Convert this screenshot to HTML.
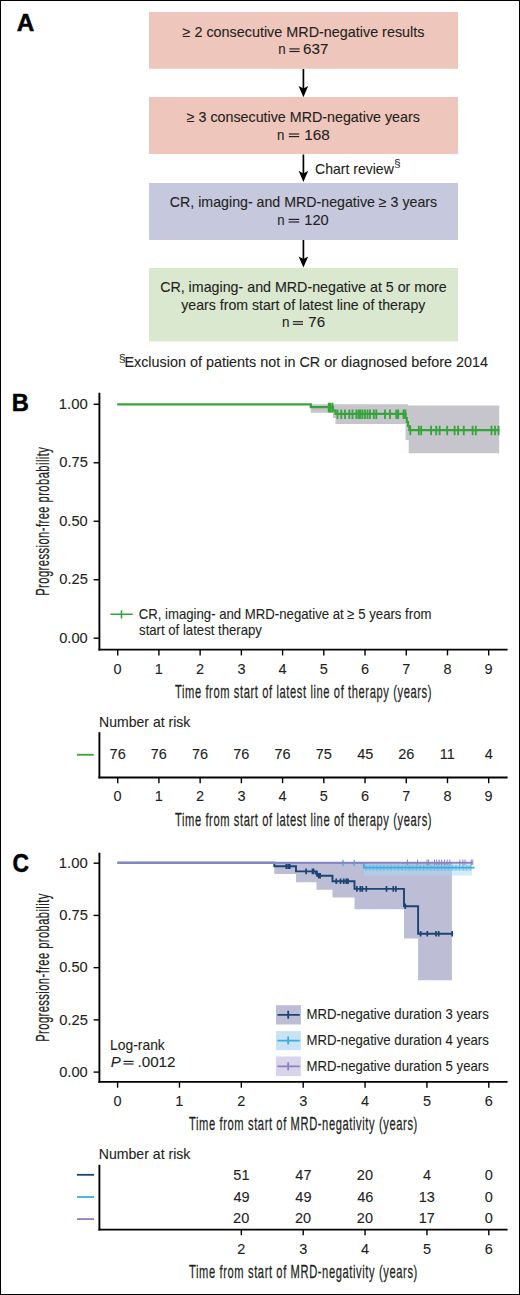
<!DOCTYPE html>
<html><head><meta charset="utf-8"><style>
html,body{margin:0;padding:0;background:#fff;}
svg{display:block;font-family:"Liberation Sans",sans-serif;}
</style></head><body>
<svg width="520" height="1295" viewBox="0 0 520 1295" fill="#231f20">
<rect x="0" y="0" width="520" height="1295" fill="#fff"/>
<rect x="149" y="12" width="309" height="56.8" fill="#efc6bc"/>
<rect x="149" y="97" width="309" height="57" fill="#efc6bc"/>
<rect x="149" y="183" width="309" height="57" fill="#c6c8de"/>
<rect x="149" y="268" width="309" height="73.5" fill="#d9e8cf"/>
<rect x="289.4" y="48.32" width="10.20" height="1.16" fill="#231f20"/>
<rect x="289.4" y="50.92" width="10.20" height="1.16" fill="#231f20"/>
<rect x="288.8" y="133.42" width="10.40" height="1.16" fill="#231f20"/>
<rect x="288.8" y="136.02" width="10.40" height="1.16" fill="#231f20"/>
<rect x="288.6" y="218.82" width="10.60" height="1.16" fill="#231f20"/>
<rect x="288.6" y="221.42" width="10.60" height="1.16" fill="#231f20"/>
<rect x="292.9" y="321.12" width="10.10" height="1.16" fill="#231f20"/>
<rect x="292.9" y="323.72" width="10.10" height="1.16" fill="#231f20"/>
<line x1="303.4" y1="69" x2="303.4" y2="89.10000000000001" stroke="#000" stroke-width="1.7"/>
<path d="M303.4,97.2 L298.6,86.0 L303.4,88.60000000000001 L308.2,86.0 Z" fill="#000"/>
<line x1="303.4" y1="154.5" x2="303.4" y2="173.9" stroke="#000" stroke-width="1.7"/>
<path d="M303.4,182 L298.6,170.8 L303.4,173.4 L308.2,170.8 Z" fill="#000"/>
<line x1="303.4" y1="240" x2="303.4" y2="259.5" stroke="#000" stroke-width="1.7"/>
<path d="M303.4,267.6 L298.6,256.40000000000003 L303.4,259.0 L308.2,256.40000000000003 Z" fill="#000"/>
<line x1="99.4" y1="392.8" x2="99.4" y2="650.5500000000001" stroke="#000" stroke-width="1.9"/>
<line x1="98.45" y1="649.6" x2="507.6" y2="649.6" stroke="#000" stroke-width="1.9"/>
<line x1="93.6" y1="404.30" x2="99.4" y2="404.30" stroke="#000" stroke-width="1.4"/>
<line x1="93.6" y1="462.78" x2="99.4" y2="462.78" stroke="#000" stroke-width="1.4"/>
<line x1="93.6" y1="521.25" x2="99.4" y2="521.25" stroke="#000" stroke-width="1.4"/>
<line x1="93.6" y1="579.73" x2="99.4" y2="579.73" stroke="#000" stroke-width="1.4"/>
<line x1="93.6" y1="638.20" x2="99.4" y2="638.20" stroke="#000" stroke-width="1.4"/>
<line x1="117.70" y1="649.6" x2="117.70" y2="655.4" stroke="#000" stroke-width="1.4"/>
<line x1="158.92" y1="649.6" x2="158.92" y2="655.4" stroke="#000" stroke-width="1.4"/>
<line x1="200.14" y1="649.6" x2="200.14" y2="655.4" stroke="#000" stroke-width="1.4"/>
<line x1="241.37" y1="649.6" x2="241.37" y2="655.4" stroke="#000" stroke-width="1.4"/>
<line x1="282.59" y1="649.6" x2="282.59" y2="655.4" stroke="#000" stroke-width="1.4"/>
<line x1="323.81" y1="649.6" x2="323.81" y2="655.4" stroke="#000" stroke-width="1.4"/>
<line x1="365.03" y1="649.6" x2="365.03" y2="655.4" stroke="#000" stroke-width="1.4"/>
<line x1="406.26" y1="649.6" x2="406.26" y2="655.4" stroke="#000" stroke-width="1.4"/>
<line x1="447.48" y1="649.6" x2="447.48" y2="655.4" stroke="#000" stroke-width="1.4"/>
<line x1="488.70" y1="649.6" x2="488.70" y2="655.4" stroke="#000" stroke-width="1.4"/>
<polygon points="310.8,404.3 408.2,404.3 408.2,405.5 499.2,405.5 499.2,453.2 408.7,453.2 408.7,440 405.5,440 405.5,423.9 335.5,423.9 335.5,418 333,418 333,412.8 310.8,412.8" fill="#c7c5cc"/>
<path d="M117.2,404.3 H310.8 V407.2 H333 V410.5 H335.5 V413.8 H405.5 V418 H406.8 V422 H408 V426 H409.3 V430.1 H499.4" fill="none" stroke="#36a33b" stroke-width="2.2"/>
<path d="M328.7,402.8v9.6 M330.5,402.8v9.6 M332.6,402.8v9.6 M337.5,409.40000000000003v9.6 M341.3,409.40000000000003v9.6 M345,409.40000000000003v9.6 M349.3,409.40000000000003v9.6 M352.5,409.40000000000003v9.6 M356.3,409.40000000000003v9.6 M358.5,409.40000000000003v9.6 M360.3,409.40000000000003v9.6 M362.5,409.40000000000003v9.6 M365,409.40000000000003v9.6 M367.5,409.40000000000003v9.6 M370,409.40000000000003v9.6 M373.8,409.40000000000003v9.6 M376.3,409.40000000000003v9.6 M385,409.40000000000003v9.6 M390,409.40000000000003v9.6 M396.3,409.40000000000003v9.6 M398.2,409.40000000000003v9.6 M403.5,409.40000000000003v9.6 M405.4,409.40000000000003v9.6 M410.3,425.70000000000005v9.6 M418.8,425.70000000000005v9.6 M421.2,425.70000000000005v9.6 M431.1,425.70000000000005v9.6 M436.2,425.70000000000005v9.6 M439.6,425.70000000000005v9.6 M447.2,425.70000000000005v9.6 M454.6,425.70000000000005v9.6 M458.1,425.70000000000005v9.6 M463.8,425.70000000000005v9.6 M472.6,425.70000000000005v9.6 M475.8,425.70000000000005v9.6 M491.5,425.70000000000005v9.6 M495,425.70000000000005v9.6 M498.5,425.70000000000005v9.6" stroke="#36a33b" stroke-width="1.8" fill="none"/>
<path d="M110.4,614.2 H132.7 M121.5,610.2 V618.4" stroke="#36a33b" stroke-width="1.6" fill="none"/>
<line x1="99.4" y1="732.2" x2="99.4" y2="778.45" stroke="#000" stroke-width="1.9"/>
<line x1="98.45" y1="777.5" x2="507.6" y2="777.5" stroke="#000" stroke-width="1.9"/>
<line x1="117.70" y1="777.5" x2="117.70" y2="783.2" stroke="#000" stroke-width="1.4"/>
<line x1="158.92" y1="777.5" x2="158.92" y2="783.2" stroke="#000" stroke-width="1.4"/>
<line x1="200.14" y1="777.5" x2="200.14" y2="783.2" stroke="#000" stroke-width="1.4"/>
<line x1="241.37" y1="777.5" x2="241.37" y2="783.2" stroke="#000" stroke-width="1.4"/>
<line x1="282.59" y1="777.5" x2="282.59" y2="783.2" stroke="#000" stroke-width="1.4"/>
<line x1="323.81" y1="777.5" x2="323.81" y2="783.2" stroke="#000" stroke-width="1.4"/>
<line x1="365.03" y1="777.5" x2="365.03" y2="783.2" stroke="#000" stroke-width="1.4"/>
<line x1="406.26" y1="777.5" x2="406.26" y2="783.2" stroke="#000" stroke-width="1.4"/>
<line x1="447.48" y1="777.5" x2="447.48" y2="783.2" stroke="#000" stroke-width="1.4"/>
<line x1="488.70" y1="777.5" x2="488.70" y2="783.2" stroke="#000" stroke-width="1.4"/>
<line x1="76.9" y1="754.75" x2="93.75" y2="754.75" stroke="#36a33b" stroke-width="1.8"/>
<line x1="99.4" y1="852.7" x2="99.4" y2="1082.8500000000001" stroke="#000" stroke-width="1.9"/>
<line x1="98.45" y1="1081.9" x2="507.6" y2="1081.9" stroke="#000" stroke-width="1.9"/>
<line x1="93.6" y1="863.20" x2="99.4" y2="863.20" stroke="#000" stroke-width="1.4"/>
<line x1="93.6" y1="915.42" x2="99.4" y2="915.42" stroke="#000" stroke-width="1.4"/>
<line x1="93.6" y1="967.65" x2="99.4" y2="967.65" stroke="#000" stroke-width="1.4"/>
<line x1="93.6" y1="1019.88" x2="99.4" y2="1019.88" stroke="#000" stroke-width="1.4"/>
<line x1="93.6" y1="1072.10" x2="99.4" y2="1072.10" stroke="#000" stroke-width="1.4"/>
<line x1="117.60" y1="1081.9" x2="117.60" y2="1087.7" stroke="#000" stroke-width="1.4"/>
<line x1="179.47" y1="1081.9" x2="179.47" y2="1087.7" stroke="#000" stroke-width="1.4"/>
<line x1="241.33" y1="1081.9" x2="241.33" y2="1087.7" stroke="#000" stroke-width="1.4"/>
<line x1="303.20" y1="1081.9" x2="303.20" y2="1087.7" stroke="#000" stroke-width="1.4"/>
<line x1="365.07" y1="1081.9" x2="365.07" y2="1087.7" stroke="#000" stroke-width="1.4"/>
<line x1="426.93" y1="1081.9" x2="426.93" y2="1087.7" stroke="#000" stroke-width="1.4"/>
<line x1="488.80" y1="1081.9" x2="488.80" y2="1087.7" stroke="#000" stroke-width="1.4"/>
<polygon points="274.3,862.9 451.9,862.9 451.9,980.2 418.1,980.2 418.1,938.5 404.0,938.5 404.0,909.2 354.5,909.2 354.5,897.4 332.5,897.4 332.5,889.8 316.5,889.8 316.5,882.3 296.0,882.3 296.0,874.0 274.3,874.0" fill="#bdbdd6"/>
<rect x="363.8" y="864.2" width="108.1" height="11.4" fill="#a9d9f2" fill-opacity="0.5"/>
<rect x="363.8" y="864.8" width="108.1" height="5.8" fill="#7cc5ec" fill-opacity="0.45"/>
<path d="M117.6,862.8 H274.3 V866.2 H296 V871.4 H316 V873.6 H317.5 V875.8 H332.5 V881.2 H354.5 V888.9 H404 V906.2 H418.1 V933.7 H453.1" fill="none" stroke="#1b4474" stroke-width="1.9"/>
<path d="M286.3,863.4000000000001v5.6 M288.3,863.4000000000001v5.6 M289.7,863.4000000000001v5.6 M306.1,868.6v5.6 M312.5,868.6v5.6 M313.6,868.6v5.6 M317,870.8000000000001v5.6 M318.75,873.0v5.6 M320.2,873.0v5.6 M336.25,878.4000000000001v5.6 M340.5,878.4000000000001v5.6 M343.75,878.4000000000001v5.6 M346.25,878.4000000000001v5.6 M348,878.4000000000001v5.6 M356.9,886.1v5.6 M360.3,886.1v5.6 M362.3,886.1v5.6 M366.3,886.1v5.6 M386.5,886.1v5.6 M393.3,886.1v5.6 M395.9,886.1v5.6 M405.3,903.4000000000001v5.6 M420.6,930.9000000000001v5.6 M427.3,930.9000000000001v5.6 M436,930.9000000000001v5.6 M438.7,930.9000000000001v5.6 M452.2,930.9000000000001v5.6" stroke="#1b4474" stroke-width="1.7" fill="none"/>
<path d="M117.6,862.8 H363.8 V867.6 H474.6" fill="none" stroke="#3aaee0" stroke-width="1.8"/>
<path d="M343.0,859.9v6 M354.2,859.9v6" stroke="#3aaee0" stroke-width="1.3" fill="none"/>
<path d="M366.0,864.6v6 M369.6,864.6v6 M373.2,864.6v6 M376.8,864.6v6 M380.4,864.6v6 M384.0,864.6v6 M387.6,864.6v6 M391.2,864.6v6 M394.8,864.6v6 M398.4,864.6v6 M402.0,864.6v6 M405.6,864.6v6 M409.2,864.6v6 M412.8,864.6v6 M416.4,864.6v6 M420.0,864.6v6 M423.6,864.6v6 M427.2,864.6v6 M430.8,864.6v6 M434.4,864.6v6 M438.0,864.6v6 M441.6,864.6v6 M445.2,864.6v6 M448.8,864.6v6 M452.4,864.6v6 M456.0,864.6v6 M459.6,864.6v6 M463.2,864.6v6 M466.8,864.6v6 M470.4,864.6v6" stroke="#3aaee0" stroke-width="0.9" stroke-opacity="0.55" fill="none"/>
<path d="M117.6,862.8 H472.7" fill="none" stroke="#8a83c0" stroke-width="2"/>
<path d="M407.5,859.5v5.6 M417.6,859.5v5.6 M427,859.5v5.6 M428.6,859.5v5.6 M434.5,859.5v5.6 M436.7,859.5v5.6 M439.2,859.5v5.6 M441.7,859.5v5.6 M444.5,859.5v5.6 M447.2,859.5v5.6 M449.8,859.5v5.6 M459.9,859.5v5.6 M462.9,859.5v5.6 M465,859.5v5.6 M471.3,859.5v5.6 M472.8,859.5v5.6" stroke="#8a83c0" stroke-width="1" fill="none"/>
<rect x="276" y="1005.2" width="24.9" height="19.3" fill="#bdbdd6"/>
<path d="M277.5,1014.8 H299.8 M288.2,1010.8 V1018.8" stroke="#1b4474" stroke-width="1.8" fill="none"/>
<rect x="276" y="1031.1" width="24.9" height="19.1" fill="#c8e4f4"/>
<path d="M277.5,1040.6 H299.8 M288.2,1036.6 V1044.6" stroke="#3aaee0" stroke-width="1.8" fill="none"/>
<rect x="276" y="1056.5" width="24.9" height="19.6" fill="#d9d4ec"/>
<path d="M277.5,1066.3 H299.8 M288.2,1062.3 V1070.3" stroke="#8a83c0" stroke-width="1.8" fill="none"/>
<rect x="123.5" y="1060.82" width="10.10" height="1.16" fill="#231f20"/>
<rect x="123.5" y="1063.42" width="10.10" height="1.16" fill="#231f20"/>
<line x1="99.4" y1="1164.8" x2="99.4" y2="1230.55" stroke="#000" stroke-width="1.9"/>
<line x1="98.45" y1="1229.6" x2="507.6" y2="1229.6" stroke="#000" stroke-width="1.9"/>
<line x1="241.33" y1="1229.6" x2="241.33" y2="1235.2" stroke="#000" stroke-width="1.4"/>
<line x1="303.20" y1="1229.6" x2="303.20" y2="1235.2" stroke="#000" stroke-width="1.4"/>
<line x1="365.07" y1="1229.6" x2="365.07" y2="1235.2" stroke="#000" stroke-width="1.4"/>
<line x1="426.93" y1="1229.6" x2="426.93" y2="1235.2" stroke="#000" stroke-width="1.4"/>
<line x1="488.80" y1="1229.6" x2="488.80" y2="1235.2" stroke="#000" stroke-width="1.4"/>
<line x1="76.9" y1="1174.8" x2="94" y2="1174.8" stroke="#1b4474" stroke-width="1.8"/>
<line x1="76.9" y1="1197.0" x2="94" y2="1197.0" stroke="#3aaee0" stroke-width="1.8"/>
<line x1="76.9" y1="1219.1" x2="94" y2="1219.1" stroke="#8a83c0" stroke-width="1.8"/>
<text x="16.82" y="30.7" font-size="24.5" stroke="#000" stroke-width="0.5" font-weight="bold" fill="#000" textLength="17.54" lengthAdjust="spacingAndGlyphs">A</text>
<text x="11.82" y="411.3" font-size="24.5" stroke="#000" stroke-width="0.5" font-weight="bold" fill="#000" textLength="17.10" lengthAdjust="spacingAndGlyphs">B</text>
<text x="12.39" y="871.8" font-size="25" stroke="#000" stroke-width="0.5" font-weight="bold" fill="#000" textLength="16.45" lengthAdjust="spacingAndGlyphs">C</text>
<text x="182.55" y="36.6" font-size="14.5" stroke="#231f20" stroke-width="0.1" textLength="241.90" lengthAdjust="spacingAndGlyphs">≥ 2 consecutive MRD-negative results</text>
<text x="278.17" y="54.4" font-size="14.5" stroke="#231f20" stroke-width="0.1" textLength="7.37" lengthAdjust="spacingAndGlyphs">n</text>
<text x="303.09" y="54.4" font-size="14.5" stroke="#231f20" stroke-width="0.1" textLength="25.33" lengthAdjust="spacingAndGlyphs">637</text>
<text x="186.75" y="121.7" font-size="14.5" stroke="#231f20" stroke-width="0.1" textLength="233.09" lengthAdjust="spacingAndGlyphs">≥ 3 consecutive MRD-negative years</text>
<text x="277.07" y="139.5" font-size="14.5" stroke="#231f20" stroke-width="0.1" textLength="7.37" lengthAdjust="spacingAndGlyphs">n</text>
<text x="304.24" y="139.5" font-size="14.5" stroke="#231f20" stroke-width="0.1" textLength="25.58" lengthAdjust="spacingAndGlyphs">168</text>
<text x="169.83" y="207.1" font-size="14.5" stroke="#231f20" stroke-width="0.1" textLength="267.31" lengthAdjust="spacingAndGlyphs">CR, imaging- and MRD-negative ≥ 3 years</text>
<text x="277.37" y="224.9" font-size="14.5" stroke="#231f20" stroke-width="0.1" textLength="7.37" lengthAdjust="spacingAndGlyphs">n</text>
<text x="304.29" y="224.9" font-size="14.5" stroke="#231f20" stroke-width="0.1" textLength="24.38" lengthAdjust="spacingAndGlyphs">120</text>
<text x="160.13" y="291.8" font-size="14.5" stroke="#231f20" stroke-width="0.1" textLength="286.65" lengthAdjust="spacingAndGlyphs">CR, imaging- and MRD-negative at 5 or more</text>
<text x="181.30" y="309.8" font-size="14.5" stroke="#231f20" stroke-width="0.1" textLength="244.10" lengthAdjust="spacingAndGlyphs">years from start of latest line of therapy</text>
<text x="281.96" y="327.2" font-size="14.5" stroke="#231f20" stroke-width="0.1" textLength="7.50" lengthAdjust="spacingAndGlyphs">n</text>
<text x="308.29" y="327.2" font-size="14.5" stroke="#231f20" stroke-width="0.1" textLength="16.82" lengthAdjust="spacingAndGlyphs">76</text>
<text x="315.04" y="173.5" font-size="14.5" stroke="#231f20" stroke-width="0.1" textLength="78.79" lengthAdjust="spacingAndGlyphs">Chart review</text>
<text x="394.04" y="166.8" font-size="10" textLength="6.63" lengthAdjust="spacingAndGlyphs">§</text>
<text x="118.71" y="362.0" font-size="10" textLength="7.00" lengthAdjust="spacingAndGlyphs">§</text>
<text x="124.38" y="366.6" font-size="14.5" stroke="#231f20" stroke-width="0.1" textLength="363.68" lengthAdjust="spacingAndGlyphs">Exclusion of patients not in CR or diagnosed before 2014</text>
<text x="58.77" y="409.0" font-size="14.5" stroke="#231f20" stroke-width="0.1" textLength="28.90" lengthAdjust="spacingAndGlyphs">1.00</text>
<text x="59.24" y="467.475" font-size="14.5" stroke="#231f20" stroke-width="0.1" textLength="28.66" lengthAdjust="spacingAndGlyphs">0.75</text>
<text x="59.24" y="525.95" font-size="14.5" stroke="#231f20" stroke-width="0.1" textLength="28.42" lengthAdjust="spacingAndGlyphs">0.50</text>
<text x="59.24" y="584.4250000000001" font-size="14.5" stroke="#231f20" stroke-width="0.1" textLength="28.66" lengthAdjust="spacingAndGlyphs">0.25</text>
<text x="59.24" y="642.9000000000001" font-size="14.5" stroke="#231f20" stroke-width="0.1" textLength="28.42" lengthAdjust="spacingAndGlyphs">0.00</text>
<text x="113.62" y="673.5" font-size="14.5" stroke="#231f20" stroke-width="0.1">0</text>
<text x="154.73" y="673.5" font-size="14.5" stroke="#231f20" stroke-width="0.1">1</text>
<text x="196.07" y="673.5" font-size="14.5" stroke="#231f20" stroke-width="0.1">2</text>
<text x="237.40" y="673.5" font-size="14.5" stroke="#231f20" stroke-width="0.1">3</text>
<text x="278.62" y="673.5" font-size="14.5" stroke="#231f20" stroke-width="0.1">4</text>
<text x="319.85" y="673.5" font-size="14.5" stroke="#231f20" stroke-width="0.1">5</text>
<text x="360.96" y="673.5" font-size="14.5" stroke="#231f20" stroke-width="0.1">6</text>
<text x="402.18" y="673.5" font-size="14.5" stroke="#231f20" stroke-width="0.1">7</text>
<text x="443.51" y="673.5" font-size="14.5" stroke="#231f20" stroke-width="0.1">8</text>
<text x="484.62" y="673.5" font-size="14.5" stroke="#231f20" stroke-width="0.1">9</text>
<text transform="translate(174.93,698.3) scale(0.62,1)" x="0" y="0" font-size="18" stroke="#231f20" stroke-width="0.25" textLength="413.79" lengthAdjust="spacing">Time from start of latest line of therapy (years)</text>
<text transform="rotate(-90) translate(-595.77,48.7) scale(0.62,1)" x="0" y="0" font-size="18" stroke="#231f20" stroke-width="0.25" textLength="239.79" lengthAdjust="spacing">Progression-free probability</text>
<text x="138.68" y="618.5" font-size="14.5" stroke="#231f20" stroke-width="0.1" textLength="292.80" lengthAdjust="spacingAndGlyphs">CR, imaging- and MRD-negative at ≥ 5 years from</text>
<text x="139.09" y="635.0" font-size="14.5" stroke="#231f20" stroke-width="0.1" textLength="122.81" lengthAdjust="spacingAndGlyphs">start of latest therapy</text>
<text x="99.00" y="726.6" font-size="14.5" stroke="#231f20" stroke-width="0.1" textLength="91.38" lengthAdjust="spacingAndGlyphs">Number at risk</text>
<text x="113.62" y="801.2" font-size="14.5" stroke="#231f20" stroke-width="0.1">0</text>
<text x="154.73" y="801.2" font-size="14.5" stroke="#231f20" stroke-width="0.1">1</text>
<text x="196.07" y="801.2" font-size="14.5" stroke="#231f20" stroke-width="0.1">2</text>
<text x="237.40" y="801.2" font-size="14.5" stroke="#231f20" stroke-width="0.1">3</text>
<text x="278.62" y="801.2" font-size="14.5" stroke="#231f20" stroke-width="0.1">4</text>
<text x="319.85" y="801.2" font-size="14.5" stroke="#231f20" stroke-width="0.1">5</text>
<text x="360.96" y="801.2" font-size="14.5" stroke="#231f20" stroke-width="0.1">6</text>
<text x="402.18" y="801.2" font-size="14.5" stroke="#231f20" stroke-width="0.1">7</text>
<text x="443.51" y="801.2" font-size="14.5" stroke="#231f20" stroke-width="0.1">8</text>
<text x="484.62" y="801.2" font-size="14.5" stroke="#231f20" stroke-width="0.1">9</text>
<text x="109.59" y="759.4" font-size="14.5" stroke="#231f20" stroke-width="0.1">76</text>
<text x="150.81" y="759.4" font-size="14.5" stroke="#231f20" stroke-width="0.1">76</text>
<text x="192.03" y="759.4" font-size="14.5" stroke="#231f20" stroke-width="0.1">76</text>
<text x="233.26" y="759.4" font-size="14.5" stroke="#231f20" stroke-width="0.1">76</text>
<text x="274.48" y="759.4" font-size="14.5" stroke="#231f20" stroke-width="0.1">76</text>
<text x="315.70" y="759.4" font-size="14.5" stroke="#231f20" stroke-width="0.1">75</text>
<text x="357.15" y="759.4" font-size="14.5" stroke="#231f20" stroke-width="0.1">45</text>
<text x="398.15" y="759.4" font-size="14.5" stroke="#231f20" stroke-width="0.1">26</text>
<text x="439.79" y="759.4" font-size="14.5" stroke="#231f20" stroke-width="0.1">11</text>
<text x="484.74" y="759.4" font-size="14.5" stroke="#231f20" stroke-width="0.1">4</text>
<text transform="translate(174.93,825.8) scale(0.62,1)" x="0" y="0" font-size="18" stroke="#231f20" stroke-width="0.25" textLength="413.95" lengthAdjust="spacing">Time from start of latest line of therapy (years)</text>
<text x="58.77" y="867.9000000000001" font-size="14.5" stroke="#231f20" stroke-width="0.1" textLength="28.90" lengthAdjust="spacingAndGlyphs">1.00</text>
<text x="59.24" y="920.125" font-size="14.5" stroke="#231f20" stroke-width="0.1" textLength="28.66" lengthAdjust="spacingAndGlyphs">0.75</text>
<text x="59.24" y="972.35" font-size="14.5" stroke="#231f20" stroke-width="0.1" textLength="28.42" lengthAdjust="spacingAndGlyphs">0.50</text>
<text x="59.24" y="1024.575" font-size="14.5" stroke="#231f20" stroke-width="0.1" textLength="28.66" lengthAdjust="spacingAndGlyphs">0.25</text>
<text x="59.24" y="1076.8" font-size="14.5" stroke="#231f20" stroke-width="0.1" textLength="28.42" lengthAdjust="spacingAndGlyphs">0.00</text>
<text x="113.52" y="1105.8" font-size="14.5" stroke="#231f20" stroke-width="0.1">0</text>
<text x="175.28" y="1105.8" font-size="14.5" stroke="#231f20" stroke-width="0.1">1</text>
<text x="237.26" y="1105.8" font-size="14.5" stroke="#231f20" stroke-width="0.1">2</text>
<text x="299.24" y="1105.8" font-size="14.5" stroke="#231f20" stroke-width="0.1">3</text>
<text x="361.10" y="1105.8" font-size="14.5" stroke="#231f20" stroke-width="0.1">4</text>
<text x="422.97" y="1105.8" font-size="14.5" stroke="#231f20" stroke-width="0.1">5</text>
<text x="484.72" y="1105.8" font-size="14.5" stroke="#231f20" stroke-width="0.1">6</text>
<text transform="translate(189.03,1130.4) scale(0.62,1)" x="0" y="0" font-size="18" stroke="#231f20" stroke-width="0.25" textLength="368.15" lengthAdjust="spacing">Time from start of MRD-negativity (years)</text>
<text transform="rotate(-90) translate(-1041.77,48.6) scale(0.62,1)" x="0" y="0" font-size="18" stroke="#231f20" stroke-width="0.25" textLength="238.83" lengthAdjust="spacing">Progression-free probability</text>
<text x="306.47" y="1019.4" font-size="14.5" stroke="#231f20" stroke-width="0.1" textLength="182.34" lengthAdjust="spacingAndGlyphs">MRD-negative duration 3 years</text>
<text x="306.47" y="1045.0" font-size="14.5" stroke="#231f20" stroke-width="0.1" textLength="182.34" lengthAdjust="spacingAndGlyphs">MRD-negative duration 4 years</text>
<text x="306.47" y="1070.9" font-size="14.5" stroke="#231f20" stroke-width="0.1" textLength="182.34" lengthAdjust="spacingAndGlyphs">MRD-negative duration 5 years</text>
<text x="110.12" y="1049.5" font-size="14.5" stroke="#231f20" stroke-width="0.1" textLength="54.67" lengthAdjust="spacingAndGlyphs">Log-rank</text>
<text x="110.77" y="1066.9" font-size="14.5" stroke="#231f20" stroke-width="0.1" font-style="italic" textLength="9.96" lengthAdjust="spacingAndGlyphs">P</text>
<text x="137.51" y="1066.9" font-size="14.5" stroke="#231f20" stroke-width="0.1" textLength="38.00" lengthAdjust="spacingAndGlyphs">.0012</text>
<text x="98.80" y="1159.2" font-size="14.5" stroke="#231f20" stroke-width="0.1" textLength="91.58" lengthAdjust="spacingAndGlyphs">Number at risk</text>
<text x="237.26" y="1253.8" font-size="14.5" stroke="#231f20" stroke-width="0.1">2</text>
<text x="299.24" y="1253.8" font-size="14.5" stroke="#231f20" stroke-width="0.1">3</text>
<text x="361.10" y="1253.8" font-size="14.5" stroke="#231f20" stroke-width="0.1">4</text>
<text x="422.97" y="1253.8" font-size="14.5" stroke="#231f20" stroke-width="0.1">5</text>
<text x="484.72" y="1253.8" font-size="14.5" stroke="#231f20" stroke-width="0.1">6</text>
<text x="233.34" y="1179.7" font-size="14.5" stroke="#231f20" stroke-width="0.1">51</text>
<text x="295.32" y="1179.7" font-size="14.5" stroke="#231f20" stroke-width="0.1">47</text>
<text x="356.84" y="1179.7" font-size="14.5" stroke="#231f20" stroke-width="0.1">20</text>
<text x="422.97" y="1179.7" font-size="14.5" stroke="#231f20" stroke-width="0.1">4</text>
<text x="484.72" y="1179.7" font-size="14.5" stroke="#231f20" stroke-width="0.1">0</text>
<text x="233.45" y="1201.7" font-size="14.5" stroke="#231f20" stroke-width="0.1">49</text>
<text x="295.32" y="1201.7" font-size="14.5" stroke="#231f20" stroke-width="0.1">49</text>
<text x="357.18" y="1201.7" font-size="14.5" stroke="#231f20" stroke-width="0.1">46</text>
<text x="418.71" y="1201.7" font-size="14.5" stroke="#231f20" stroke-width="0.1">13</text>
<text x="484.72" y="1201.7" font-size="14.5" stroke="#231f20" stroke-width="0.1">0</text>
<text x="233.11" y="1223.4" font-size="14.5" stroke="#231f20" stroke-width="0.1">20</text>
<text x="294.98" y="1223.4" font-size="14.5" stroke="#231f20" stroke-width="0.1">20</text>
<text x="356.84" y="1223.4" font-size="14.5" stroke="#231f20" stroke-width="0.1">20</text>
<text x="418.71" y="1223.4" font-size="14.5" stroke="#231f20" stroke-width="0.1">17</text>
<text x="484.72" y="1223.4" font-size="14.5" stroke="#231f20" stroke-width="0.1">0</text>
<text transform="translate(189.03,1277.8) scale(0.62,1)" x="0" y="0" font-size="18" stroke="#231f20" stroke-width="0.25" textLength="368.15" lengthAdjust="spacing">Time from start of MRD-negativity (years)</text>
<rect x="0.5" y="0.5" width="519" height="1294" fill="none" stroke="#000" stroke-width="1"/>
</svg>
</body></html>
